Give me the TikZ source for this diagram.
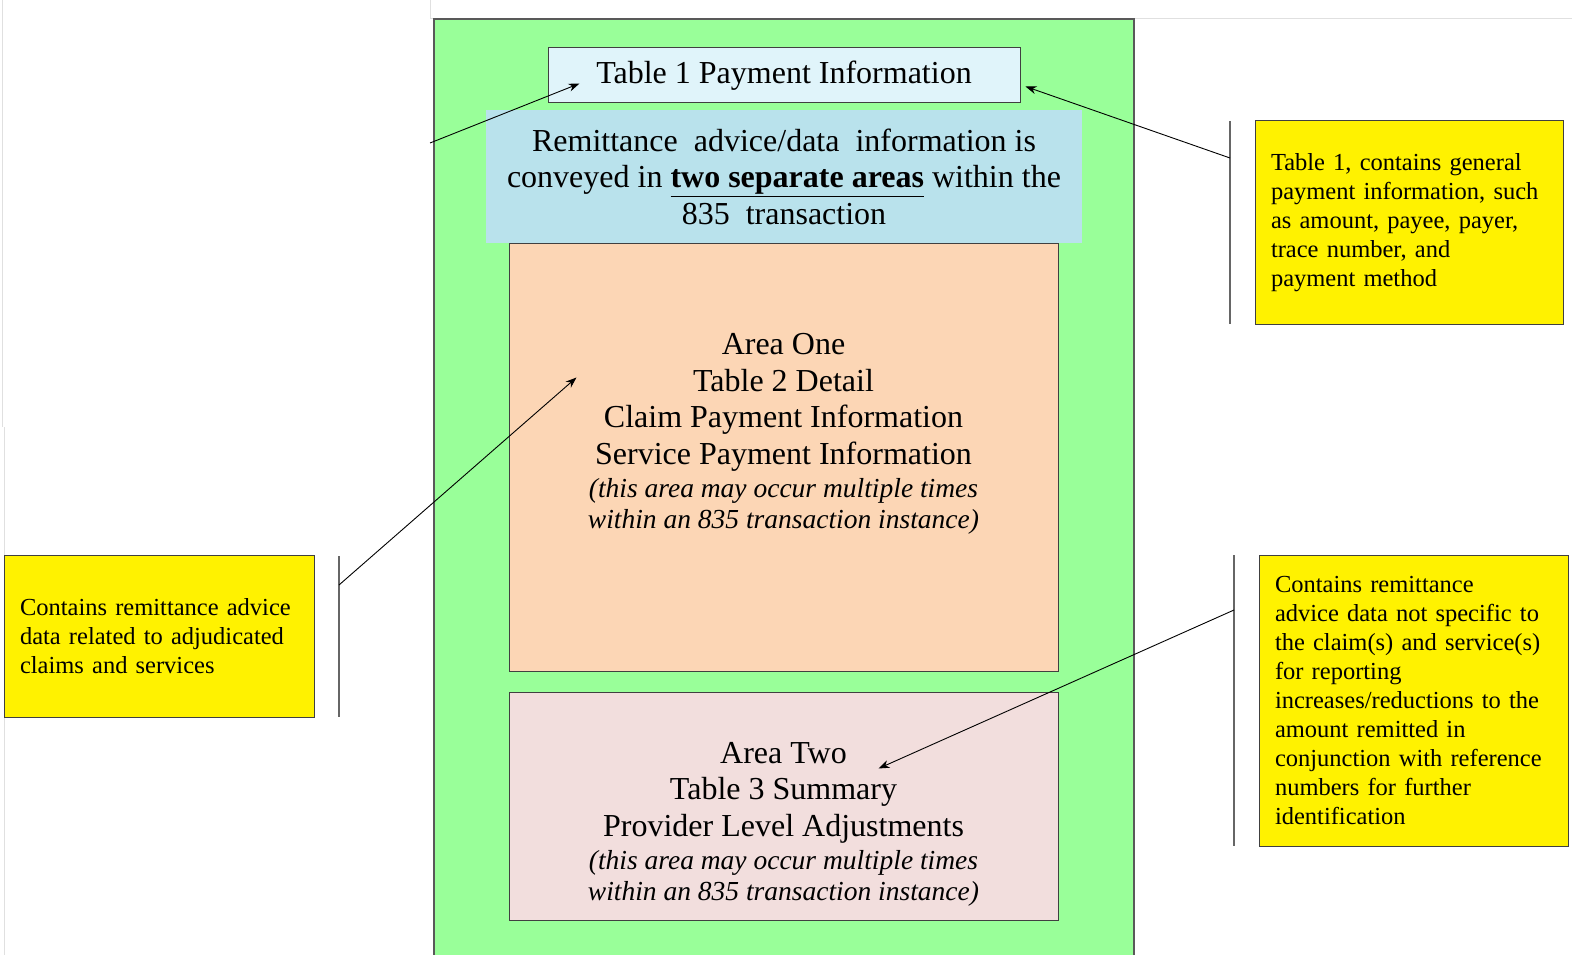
\documentclass[tikz,border=0pt]{standalone}
\usepackage{fontspec}
\setmainfont{Liberation Serif}
\usetikzlibrary{arrows.meta}

\definecolor{framegreen}{RGB}{153,255,153}
\definecolor{tablecyan}{RGB}{224,244,250}
\definecolor{introblue}{RGB}{185,226,236}
\definecolor{areaorange}{RGB}{252,214,181}
\definecolor{areapink}{RGB}{242,222,221}

\begin{document}
\begin{tikzpicture}[x=1pt,y=-1pt,
    box/.style={draw=black!75,line width=1pt,inner sep=0pt},
    note/.style={box,fill=yellow,align=left,inner xsep=16pt,
      font=\fontsize{24.5}{29}\selectfont},
    big/.style={font=\fontsize{32}{36.5}\selectfont},
    pointer/.style={-{Stealth[length=11pt,width=8pt]},line width=0.9pt},
    bar/.style={draw=black!60,line width=1.4pt}]
      \useasboundingbox (0,0) rectangle (1572,955);

      %%%%  window edges
      \draw[black!12,line width=1pt] (2,0) -- (2,427);
      \draw[black!12,line width=1pt] (4,427) -- (4,955);
      \draw[black!12,line width=1pt] (430,0) -- (430,19) -- (1572,19);

      %%%%  transaction frame
      \draw[fill=framegreen,draw=black!65,line width=1.4pt] (434,19) rectangle (1134,975);

      \node[box,fill=areaorange,minimum width=549pt,minimum height=428pt] (areaone) at (783.5,457) {};
      \node[box,fill=areapink,minimum width=549pt,minimum height=228pt] (areatwo) at (783.5,806) {};
      \node[box,fill=tablecyan,minimum width=472pt,minimum height=55pt,big] (tableone) at (784,75.5)
        {Table 1 Payment Information};
      \node[fill=introblue,minimum width=596pt,minimum height=133pt,inner sep=0pt,align=center,big] (intro)
        at (784,176.5)
        {Remittance~ advice/data~ information is\\
         conveyed in \textbf{\underline{two separate areas}} within the\\
         835~ transaction};

      %%%%  area texts
      \node[align=center,big,inner sep=0pt] (areaonetext) at (783.5,434)
        {Area One\\ Table 2 Detail\\ Claim Payment Information\\ Service Payment Information\\[-3pt]
         {\fontsize{27.5}{31}\selectfont\itshape (this area may occur multiple times}\\[-6pt]
         {\fontsize{27.5}{31}\selectfont\itshape within an 835 transaction instance)}};
      \node[align=center,big,inner sep=0pt] (areatwotext) at (783.5,824)
        {Area Two\\ Table 3 Summary\\ Provider Level Adjustments\\[-3pt]
         {\fontsize{27.5}{31}\selectfont\itshape (this area may occur multiple times}\\[-6pt]
         {\fontsize{27.5}{31}\selectfont\itshape within an 835 transaction instance)}};

      %%%%  notes
      \node[note,text width=276pt,minimum height=203pt] (notetop) at (1409,222.5)
        {Table 1, contains general\\ payment information, such\\ as amount, payee, payer,\\
         trace number, and\\ payment method};
      \node[note,text width=278pt,minimum height=162pt] (noteleft) at (159,636)
        {Contains remittance advice\\ data related to adjudicated\\ claims and services};
      \node[note,text width=277pt,minimum height=291pt] (notebottom) at (1413.5,700.5)
        {Contains remittance\\ advice data not specific to\\ the claim(s) and service(s)\\
         for reporting\\ increases/reductions to the\\ amount remitted in\\
         conjunction with reference\\ numbers for further\\ identification};

      %%%%  bars and pointers
      \coordinate (barone-a) at (1230,121);
      \coordinate (barone-b) at (1230,324);
      \coordinate (barone-tap) at (1230,158);
      \coordinate (bartwo-a) at (339,556);
      \coordinate (bartwo-b) at (339,717);
      \coordinate (bartwo-tap) at (339,585);
      \coordinate (barthree-a) at (1234,555);
      \coordinate (barthree-b) at (1234,846);
      \coordinate (barthree-tap) at (1234,610);
      \coordinate (edge) at (430,143);

      \draw[bar] (barone-a) -- (barone-b);
      \draw[bar] (bartwo-a) -- (bartwo-b);
      \draw[bar] (barthree-a) -- (barthree-b);

      \draw[pointer] (edge) -- ([xshift=32pt,yshift=-8pt]tableone.west);
      \draw[pointer] (barone-tap) -- ([xshift=5pt,yshift=-11pt]tableone.east);
      \draw[pointer] (bartwo-tap) -- ([xshift=68pt,yshift=-135pt]areaone.north west);
      \draw[pointer] (barthree-tap) -- ([xshift=-180pt,yshift=-77pt]areatwo.north east);
    \end{tikzpicture}
\end{document}
